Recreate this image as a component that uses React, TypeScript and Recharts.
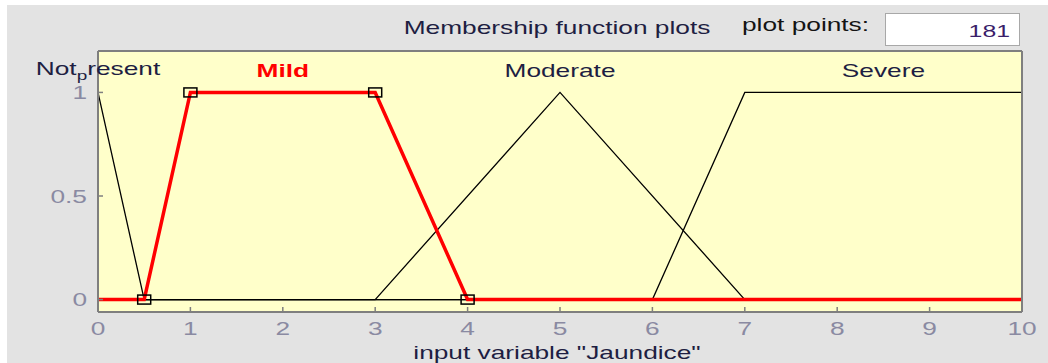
import { ComposedChart, Line, Scatter, XAxis, YAxis, CartesianGrid } from 'recharts'

// membership functions of input variable "Jaundice", as drawn (x, mu)
const notPresentX = [0, 0.5, 10]
const notPresentY = [1, 0, 0]
const mildX = [0, 0.5, 1, 3, 4, 10]
const mildY = [0, 0, 1, 1, 0, 0]
const moderateX = [0, 3, 5, 7, 10]
const moderateY = [0, 0, 1, 0, 0]
const severeX = [0, 6, 7, 10]
const severeY = [0, 0, 1, 1]

// trapmf parameters of the selected MF (Mild)
const mildParamX = [0.5, 1, 3, 4]
const mildParamY = [0, 1, 1, 0]

const mfNames = ['Not_present', 'Mild', 'Moderate', 'Severe']
const mfCenters = [0, 2, 5, 8.5]
const LABEL_LEVEL = 1.075

const xTicks = [0, 1, 2, 3, 4, 5, 6, 7, 8, 9, 10]
const yTicks = [0, 0.5, 1]
const plotPoints = 181

const toPts = (xs: number[], ys: number[]) => xs.map((x, i) => ({ x, y: ys[i] }))

const FONT = '"Liberation Sans", Arial, sans-serif'
const SX = 1.46
const AXIS = '#7f7f7f'
const TICK_TEXT = '#8a8aa2'
const NAVY = '#1e1e42'

function SText({ x, y, anchor = 'middle', size = 18, children, ...rest }: any) {
    return (
        <text
            transform={`translate(${x},${y}) scale(${SX},1)`}
            textAnchor={anchor}
            fontFamily={FONT}
            fontSize={size}
            {...rest}
        >
            {children}
        </text>
    )
}

const BottomTick = ({ x, y, payload }: any) => (
    <g>
        {payload.value > 0 && payload.value < 10 && (
            <line x1={x} x2={x} y1={y} y2={y - 5} stroke={AXIS} strokeWidth={1.5} />
        )}
        <SText x={x} y={y + 23} fill={TICK_TEXT}>{payload.value}</SText>
    </g>
)

const TopTick = ({ x, y, payload }: any) =>
    payload.value > 0 && payload.value < 10 ? (
        <line x1={x} x2={x} y1={y} y2={y + 5} stroke={AXIS} strokeWidth={1.5} />
    ) : (
        <g />
    )

const LeftTick = ({ x, y, payload }: any) => (
    <g>
        <line x1={x} x2={x + 5} y1={y} y2={y} stroke={AXIS} strokeWidth={1.5} />
        <SText x={x - 11} y={y + 6.5} anchor="end" fill={TICK_TEXT}>{payload.value}</SText>
    </g>
)

const ParamSquare = ({ cx, cy }: any) => (
    <rect x={cx - 6.5} y={cy - 4.5} width={13} height={9} fill="none" stroke="#000" strokeWidth={1.5} />
)

const MfLabel = ({ cx, cy, payload }: any) => {
    const name: string = payload.name
    if (name.includes('_')) {
        const [a, b] = name.split('_')
        return (
            <SText x={cx} y={cy - 2} fill={NAVY}>
                {a}
                <tspan dy={5} fontSize={13}>{b[0]}</tspan>
                <tspan dy={-5}>{b.slice(1)}</tspan>
            </SText>
        )
    }
    const selected = name === 'Mild'
    return (
        <SText x={cx} y={cy} fill={selected ? '#ff0000' : NAVY} fontWeight={selected ? 'bold' : 'normal'}>
            {name}
        </SText>
    )
}

export default function App() {
    const labels = mfNames.map((name, i) => ({ x: mfCenters[i], y: LABEL_LEVEL, name }))
    return (
        <div style={{ position: 'absolute', left: 0, top: 0, width: 1048, height: 363, background: '#ffffff', overflow: 'hidden' }}>
            <div style={{ position: 'absolute', left: 7, top: 5, right: 0, bottom: 0, background: '#e3e3e3' }} />
            <div style={{ position: 'absolute', left: 0, top: 0 }}>
                <ComposedChart width={1048} height={363} margin={{ top: 0, right: 0, bottom: 0, left: 0 }}>
                    <CartesianGrid fill="#ffffca" horizontal={false} vertical={false} />
                    <XAxis
                        dataKey="x"
                        type="number"
                        domain={[0, 10]}
                        ticks={xTicks}
                        height={51}
                        axisLine={{ stroke: AXIS, strokeWidth: 2 }}
                        tickLine={false}
                        tickSize={0}
                        tickMargin={0}
                        tick={<BottomTick />}
                        interval={0}
                    />
                    <XAxis
                        xAxisId="top"
                        orientation="top"
                        dataKey="x"
                        type="number"
                        domain={[0, 10]}
                        ticks={xTicks}
                        height={51}
                        axisLine={{ stroke: AXIS, strokeWidth: 2 }}
                        tickLine={false}
                        tickSize={0}
                        tickMargin={0}
                        tick={<TopTick />}
                        interval={0}
                    />
                    <YAxis
                        dataKey="y"
                        type="number"
                        domain={[-0.06, 1.2]}
                        ticks={yTicks}
                        width={98}
                        axisLine={{ stroke: AXIS, strokeWidth: 2 }}
                        tickLine={false}
                        tickSize={0}
                        tickMargin={0}
                        tick={<LeftTick />}
                        interval={0}
                    />
                    <YAxis
                        yAxisId="r"
                        orientation="right"
                        dataKey="y"
                        type="number"
                        domain={[-0.06, 1.2]}
                        width={26}
                        axisLine={{ stroke: AXIS, strokeWidth: 2 }}
                        tickLine={false}
                        tick={false}
                    />
                    <Line data={toPts(notPresentX, notPresentY)} dataKey="y" type="linear" stroke="#000" strokeWidth={1.3} dot={false} isAnimationActive={false} />
                    <Line data={toPts(moderateX, moderateY)} dataKey="y" type="linear" stroke="#000" strokeWidth={1.3} dot={false} isAnimationActive={false} />
                    <Line data={toPts(severeX, severeY)} dataKey="y" type="linear" stroke="#000" strokeWidth={1.3} dot={false} isAnimationActive={false} />
                    <Line data={toPts(mildX, mildY)} dataKey="y" type="linear" stroke="#ff0000" strokeWidth={3.5} dot={false} isAnimationActive={false} />
                    <Scatter data={toPts(mildParamX, mildParamY)} shape={<ParamSquare />} isAnimationActive={false} />
                    <Scatter data={labels} shape={<MfLabel />} isAnimationActive={false} />
                </ComposedChart>
            </div>
            <svg width={1048} height={363} style={{ position: 'absolute', left: 0, top: 0, pointerEvents: 'none' }}>
                <SText x={557} y={34} fill={NAVY}>Membership function plots</SText>
                <SText x={742} y={31} anchor="start" fill="#141414">plot points:</SText>
                <rect x={885.5} y={13.5} width={134} height={32} fill="#ffffff" stroke="#a8a8a8" strokeWidth={1} />
                <SText x={1010} y={37} anchor="end" size={17} fill="#3a1e6a">{plotPoints}</SText>
                <SText x={557} y={359} fill={NAVY}>input variable "Jaundice"</SText>
            </svg>
        </div>
    )
}
